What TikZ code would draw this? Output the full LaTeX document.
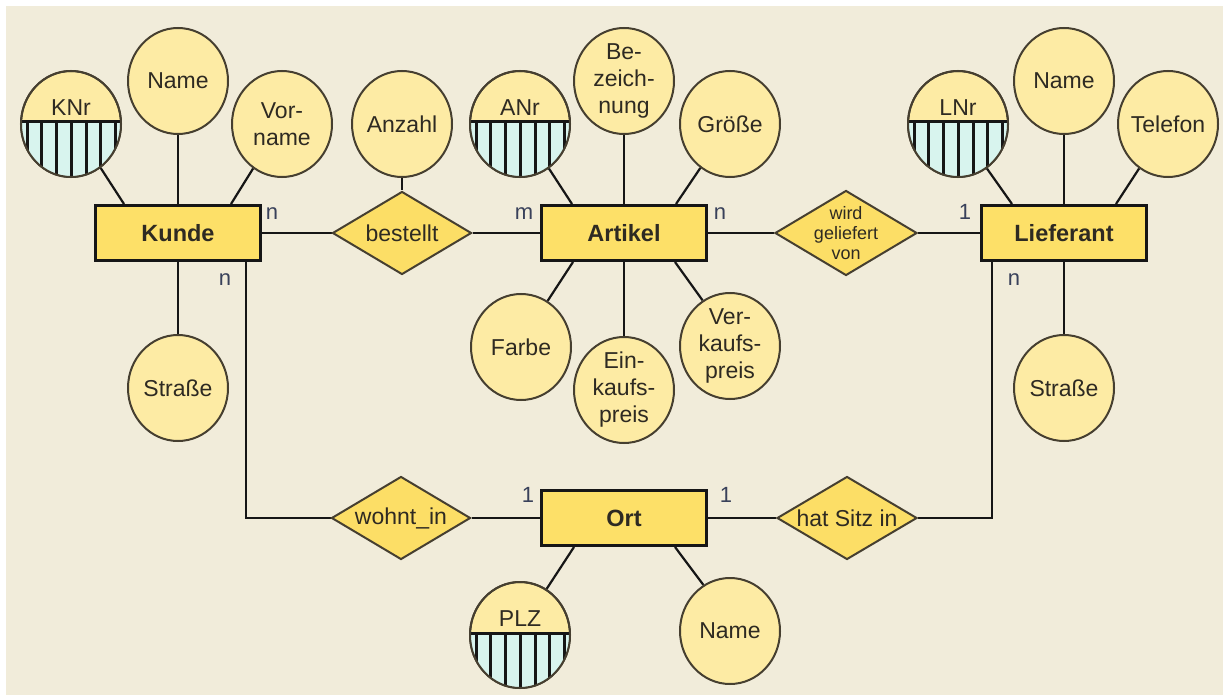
\documentclass[tikz,border=0pt]{standalone}
\usepackage{fontspec}
\setmainfont{Liberation Sans}
\usetikzlibrary{shapes.geometric,calc}

\definecolor{paper}{HTML}{F1ECDA}
\definecolor{entfill}{HTML}{FDE068}
\definecolor{relfill}{HTML}{FCDE66}
\definecolor{attrfill}{HTML}{FDEBA4}
\definecolor{keyfill}{HTML}{D8F4EE}
\definecolor{ink}{HTML}{161616}
\definecolor{rim}{HTML}{463F30}
\definecolor{txt}{HTML}{2E2A22}
\definecolor{cardtxt}{HTML}{39415A}

\pgfdeclarelayer{wires}
\pgfsetlayers{wires,main}

\tikzset{
  entity/.style={rectangle, draw=ink, line width=3pt, fill=entfill,
    minimum width=165pt, minimum height=55pt, inner sep=0pt, text=txt,
    font=\fontsize{23.5}{27}\selectfont\bfseries},
  relation/.style={diamond, draw=rim, line width=2pt, fill=relfill,
    minimum width=139pt, minimum height=83pt, inner sep=0pt},
  attr/.style={ellipse, draw=rim, line width=2pt, fill=attrfill,
    minimum width=100pt, minimum height=106pt, inner sep=0pt},
  attrtext/.style={text=txt, align=center, inner sep=0pt,
    font=\fontsize{23}{27}\selectfont},
  reltext/.style={text=txt, align=center, inner sep=0pt,
    font=\fontsize{23}{27}\selectfont},
  smalltext/.style={text=txt, align=center, inner sep=0pt,
    font=\fontsize{18}{20}\selectfont},
  card/.style={text=cardtxt, inner sep=0pt, font=\fontsize{22}{26}\selectfont},
  wire/.style={draw=ink, line width=2.8pt},
  link/.style={draw=ink, line width=2.2pt},
  stripe/.style={draw=ink, line width=3pt},
}

% key attribute: ellipse with hatched lower half
\newcommand\KeyAttr[3]{%
  \node[attr, label={[attrtext,yshift=16pt]center:#3}] (#1) at (#2) {};
  \begin{scope}
    \clip (#1.center) ellipse [x radius=50pt, y radius=53pt];
    \fill[keyfill] ($(#1.center)+(-55,-2)$) rectangle ($(#1.center)+(55,60)$);
    \foreach \dx in {-44,-29.5,-15,0,15,29.5,44}
      \draw[stripe] ($(#1.center)+(\dx,-2)$) -- ($(#1.center)+(\dx,60)$);
    \draw[stripe] ($(#1.center)+(-55,-2)$) -- ($(#1.center)+(55,-2)$);
  \end{scope}
  \draw[draw=rim, line width=2pt] (#1.center) ellipse [x radius=50pt, y radius=53pt];
}

\begin{document}
\begin{tikzpicture}[x=1pt, y=-1pt]
\useasboundingbox (0,0) rectangle (1223,695);

% entities
\node[entity] (kunde) at (178,233) {Kunde};
\node[entity] (artikel) at (624,233) {Artikel};
\node[entity] (lieferant) at (1064,233) {Lieferant};
\node[entity] (ort) at (624,518) {Ort};

% relationships
\node[relation, label={[reltext]center:bestellt}] (bestellt) at (402,233) {};
\node[relation, minimum width=142pt, minimum height=85pt,
      label={[smalltext]center:wird\\geliefert\\von}] (wird) at (846,233) {};
\node[relation, label={[reltext]center:wohnt\_in}] (wohnt) at (401,518) {};
\node[relation, minimum width=140pt, label={[reltext]center:hat Sitz in}] (hatsitz) at (847,518) {};

% attributes of Kunde
\KeyAttr{knr}{71,124}{KNr}
\node[attr, label={[attrtext]center:Name}] (kname) at (178,81) {};
\node[attr, label={[attrtext]center:Vor-\\name}] (vorname) at (282,124) {};
\node[attr, label={[attrtext]center:Straße}] (kstrasse) at (178,388) {};

% attribute of bestellt
\node[attr, label={[attrtext]center:Anzahl}] (anzahl) at (402,124) {};

% attributes of Artikel
\KeyAttr{anr}{520,124}{ANr}
\node[attr, label={[attrtext]center:Be-\\zeich-\\nung}] (bez) at (624,81) {};
\node[attr, label={[attrtext]center:Größe}] (groesse) at (730,124) {};
\node[attr, label={[attrtext]center:Farbe}] (farbe) at (521,347) {};
\node[attr, label={[attrtext]center:Ein-\\kaufs-\\preis}] (einkauf) at (624,390) {};
\node[attr, label={[attrtext]center:Ver-\\kaufs-\\preis}] (verkauf) at (730,346) {};

% attributes of Lieferant
\KeyAttr{lnr}{958,124}{LNr}
\node[attr, label={[attrtext]center:Name}] (lname) at (1064,81) {};
\node[attr, label={[attrtext]center:Telefon}] (telefon) at (1168,124) {};
\node[attr, label={[attrtext]center:Straße}] (lstrasse) at (1064,388) {};

% attributes of Ort
\KeyAttr{plz}{520,635}{PLZ}
\node[attr, label={[attrtext]center:Name}] (oname) at (730,631) {};

% cardinalities
\node[card] (c1) at (272,214) {n};
\node[card] (c2) at (524,214) {m};
\node[card] (c3) at (720,214) {n};
\node[card] (c4) at (965,212) {1};
\node[card] (c5) at (225,280) {n};
\node[card] (c6) at (1014,280) {n};
\node[card] (c7) at (528,495) {1};
\node[card] (c8) at (726,495) {1};

\begin{pgfonlayer}{wires}
  \fill[white] (0,0) rectangle (1223,695);
  \fill[paper] (6,6) rectangle (1223,695);

  % relationship connectors
  \draw[wire] (kunde.east) -- (bestellt.west);
  \draw[wire] (bestellt.east) -- (artikel.west);
  \draw[wire] (artikel.east) -- (wird.west);
  \draw[wire] (wird.east) -- (lieferant.west);
  \draw[wire] (anzahl.south) -- (bestellt.north);
  \draw[wire] ([xshift=-16pt]kunde.south east) |- (wohnt.west);
  \draw[wire] (wohnt.east) -- (ort.west);
  \draw[wire] (ort.east) -- (hatsitz.west);
  \draw[wire] (hatsitz.east) -| ([xshift=12pt]lieferant.south west);

  % attribute links
  \draw[link] (knr.-56) -- ([xshift=30pt]kunde.north west);
  \draw[link] (kname.south) -- (kunde.north);
  \draw[link] (vorname.-123) -- ([xshift=-31pt]kunde.north east);
  \draw[link] (kunde.south) -- (kstrasse.north);

  \draw[link] (anr.-57) -- ([xshift=32pt]artikel.north west);
  \draw[link] (bez.south) -- (artikel.north);
  \draw[link] (groesse.-124) -- ([xshift=-32pt]artikel.north east);
  \draw[link] (farbe.60) -- ([xshift=33pt]artikel.south west);
  \draw[link] (artikel.south) -- (einkauf.north);
  \draw[link] (verkauf.121) -- ([xshift=-33pt]artikel.south east);

  \draw[link] (lnr.-57) -- ([xshift=32pt]lieferant.north west);
  \draw[link] (lname.south) -- (lieferant.north);
  \draw[link] (telefon.-123) -- ([xshift=-32pt]lieferant.north east);
  \draw[link] (lieferant.south) -- (lstrasse.north);

  \draw[link] (plz.60) -- ([xshift=34pt]ort.south west);
  \draw[link] (oname.120) -- ([xshift=-33pt]ort.south east);
\end{pgfonlayer}
\end{tikzpicture}
\end{document}
